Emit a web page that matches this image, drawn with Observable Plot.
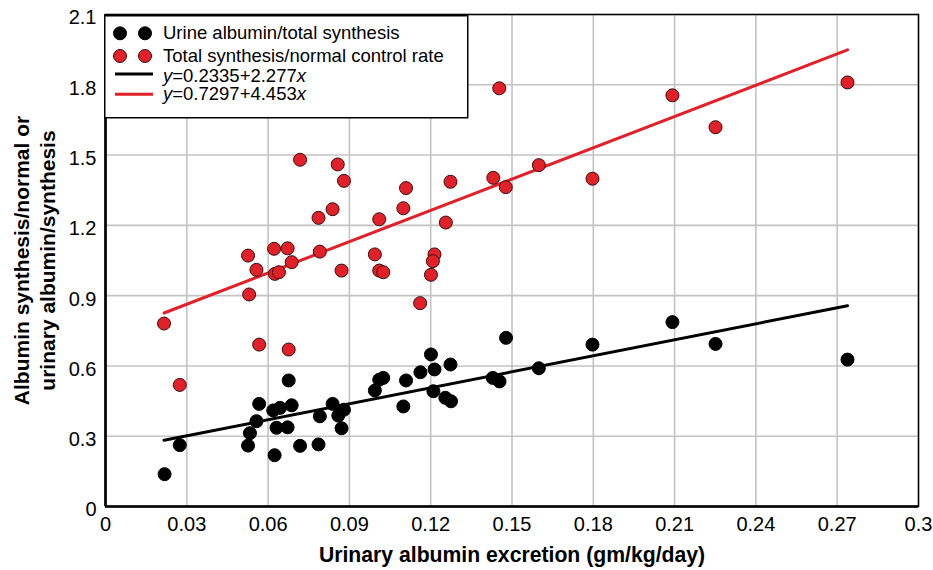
<!DOCTYPE html>
<html>
<head>
<meta charset="utf-8">
<script src="https://cdn.jsdelivr.net/npm/d3@7"></script>
<script src="https://cdn.jsdelivr.net/npm/@observablehq/plot@0.6"></script>
<style>
html,body{margin:0;padding:0;background:#fff;}
#wrap{position:relative;width:933px;height:570px;font-family:"Liberation Sans",Arial,sans-serif;}
#legend{position:absolute;left:104px;top:15px;}
</style>
</head>
<body>
<div id="wrap"><div id="chart"></div><div id="legend"></div></div>
<script>
// Series: Urine albumin/total synthesis (black)
const xBlack = [0.0218,0.0274,0.0526,0.0533,0.0557,0.0567,0.0624,0.0631,0.0619,0.0644,0.0672,0.0687,0.0676,0.0718,0.0786,0.0791,0.0838,0.0859,0.0880,0.0871,0.0994,0.1010,0.1025,0.1099,0.1109,0.1162,0.1201,0.1214,0.1210,0.1254,0.1275,0.1273,0.1429,0.1454,0.1478,0.1599,0.1797,0.2092,0.2251,0.2738];
const yBlack = [0.138,0.262,0.260,0.313,0.364,0.438,0.219,0.336,0.410,0.421,0.338,0.432,0.538,0.259,0.265,0.385,0.438,0.388,0.413,0.334,0.495,0.541,0.549,0.427,0.538,0.573,0.649,0.585,0.492,0.464,0.449,0.606,0.549,0.534,0.720,0.590,0.691,0.787,0.694,0.627];
// Series: Total synthesis/normal control rate (red)
const xRed = [0.0216,0.0274,0.0526,0.0530,0.0557,0.0567,0.0622,0.0625,0.0640,0.0672,0.0687,0.0676,0.0718,0.0791,0.0786,0.0838,0.0857,0.0880,0.0871,0.1109,0.1273,0.1431,0.1477,0.1599,0.1099,0.1010,0.1256,0.0994,0.1010,0.1025,0.1214,0.1208,0.1201,0.1161,0.1797,0.2092,0.2251,0.2738,0.1453];
const yRed = [0.781,0.519,1.071,0.905,1.010,0.691,1.100,0.993,1.000,1.102,1.043,0.670,1.480,1.088,1.232,1.269,1.460,1.390,1.007,1.359,1.386,1.403,1.363,1.457,1.273,1.226,1.212,1.076,1.007,1.000,1.076,1.047,0.989,0.868,1.399,1.755,1.619,1.810,1.785];
// Fitted lines (from the chart's equations)
const fitIntercept = [0.2335, 0.7297];
const fitSlope = [2.277, 4.453];
const seriesNames = ["Urine albumin/total synthesis", "Total synthesis/normal control rate"];
const fitIntercepts = ["0.2335", "0.7297"];
const fitSlopes = ["2.277", "4.453"];
// Axes
const xTicks = [0, 0.03, 0.06, 0.09, 0.12, 0.15, 0.18, 0.21, 0.24, 0.27, 0.3];
const yTicks = [0, 0.3, 0.6, 0.9, 1.2, 1.5, 1.8, 2.1];
const xTitle = "Urinary albumin excretion (gm/kg/day)";
const yTitle = "Albumin synthesis/normal or\nurinary albumin/synthesis";

const RED = "#e2202a";
const colors = ["#000000", RED];

const blackPts = xBlack.map((x, i) => ({x, y: yBlack[i]}));
const redPts = xRed.map((x, i) => ({x, y: yRed[i]}));
const xMin = Math.min(...xBlack, ...xRed), xMax = Math.max(...xBlack, ...xRed);
const fitLine = k => [xMin, xMax].map(x => ({x, y: fitIntercept[k] + fitSlope[k] * x}));

const FONT = '"Liberation Sans", Arial, sans-serif';

const chart = Plot.plot({
  width: 933, height: 570,
  marginLeft: 105, marginRight: 15, marginTop: 14, marginBottom: 64,
  x: {domain: [0, 0.3]},
  y: {domain: [0, 2.1]},
  style: {fontFamily: FONT, fontSize: "20px", color: "#000", background: "#fff"},
  marks: [
    Plot.gridX(xTicks, {stroke: "#c3c3c3", strokeOpacity: 1, strokeWidth: 1.6}),
    Plot.gridY(yTicks, {stroke: "#c3c3c3", strokeOpacity: 1, strokeWidth: 1.6}),
    Plot.frame({stroke: "#000", strokeWidth: 1.5}),
    Plot.ruleX([0], {stroke: "#000", strokeWidth: 2.6}),
    Plot.ruleY([0], {stroke: "#000", strokeWidth: 2.6}),
    Plot.axisX(xTicks, {tickSize: 0, tickPadding: 10.5, tickFormat: d => String(d), label: null, fontSize: 20}),
    Plot.axisY(yTicks, {tickSize: 0, tickPadding: 9, tickFormat: d => String(d), label: null, fontSize: 20, dy: 3.5}),
    Plot.line(fitLine(0), {x: "x", y: "y", stroke: colors[0], strokeWidth: 3}),
    Plot.line(fitLine(1), {x: "x", y: "y", stroke: colors[1], strokeWidth: 3}),
    Plot.dot(blackPts, {x: "x", y: "y", r: 6.5, fill: colors[0], stroke: "#000", strokeWidth: 1}),
    Plot.dot(redPts, {x: "x", y: "y", r: 6.5, fill: colors[1], stroke: "#3a0c0c", strokeWidth: 1}),
    Plot.text([xTitle], {text: d => d, frameAnchor: "bottom", lineAnchor: "top", textAnchor: "middle", dy: 40, fontWeight: "bold", fontSize: 21.2}),
    Plot.text([yTitle], {text: d => d, frameAnchor: "left", textAnchor: "middle", lineAnchor: "middle", rotate: -90, dx: -71.6, lineHeight: 1.25, fontWeight: "bold", fontSize: 21})
  ]
});
document.getElementById("chart").appendChild(chart);

// Legend (overlaid box in upper-left of the plot)
const lg = d3.select("#legend").append("svg")
  .attr("width", 365).attr("height", 104)
  .style("font-family", FONT).style("font-size", "18.5px").style("display", "block");
lg.append("rect").attr("x", 0.75).attr("y", 0.75).attr("width", 363).attr("height", 102)
  .attr("fill", "#fff").attr("stroke", "#000").attr("stroke-width", 1.5);
const rowsDot = [18.3, 41];
rowsDot.forEach((cy, k) => {
  [16, 41].forEach(cx => {
    lg.append("circle").attr("cx", cx).attr("cy", cy).attr("r", 6.5)
      .attr("fill", colors[k]).attr("stroke", k ? "#3a0c0c" : "#000").attr("stroke-width", 1);
  });
  lg.append("text").attr("x", 59).attr("y", [24.3, 46.7][k]).text(seriesNames[k]);
});
[59, 79.3].forEach((ly, k) => {
  lg.append("line").attr("x1", 11).attr("x2", 49).attr("y1", ly).attr("y2", ly)
    .attr("stroke", colors[k]).attr("stroke-width", 3);
  const t = lg.append("text").attr("x", 59).attr("y", [66.7, 85][k]);
  t.append("tspan").attr("font-style", "italic").text("y");
  t.append("tspan").text("=" + fitIntercepts[k] + "+" + fitSlopes[k]);
  t.append("tspan").attr("font-style", "italic").text("x");
});
</script>
</body>
</html>
